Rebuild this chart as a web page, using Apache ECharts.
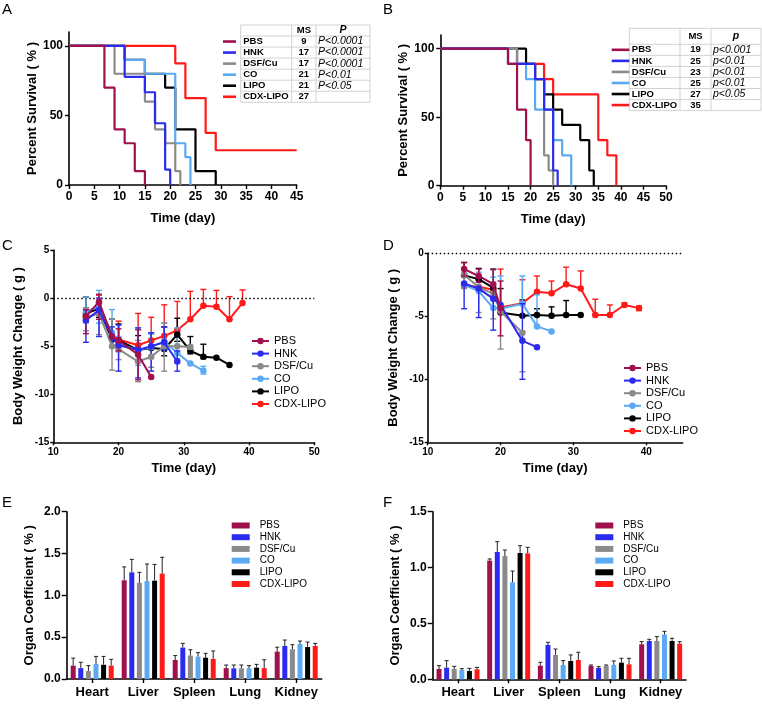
<!DOCTYPE html>
<html><head><meta charset="utf-8">
<script src="https://cdn.jsdelivr.net/npm/echarts@6/dist/echarts.min.js"></script>
<style>html,body{margin:0;padding:0;background:#fff}#c{width:762px;height:704px}</style>
</head><body><div id="c"></div>
<script>
// ---------- DATA ----------
const groups = ['PBS', 'HNK', 'DSF/Cu', 'CO', 'LIPO', 'CDX-LIPO'];

// Panel A survival: [day, percent]
const survA_PBS  = [[0,100],[7,70],[9,40],[11,30],[13,10],[15,0]];
const survA_HNK  = [[0,100],[11,77.8],[15,66.7],[17,44.4],[19,11.1],[20,0]];
const survA_DSF  = [[0,100],[9,80],[15,60],[17,40],[19,30],[21,10],[22,0]];
const survA_CO   = [[0,100],[11,90],[15,80],[21,30],[23,20],[24,0]];
const survA_LIPO = [[0,100],[11,90],[15,80],[19,70],[21,40],[25,10],[29,0]];
const survA_CDX  = [[0,100],[21,87.5],[23,62.5],[27,37.5],[29,25],[45,25]];
const msA = ['9','17','17','21','21','27'];
const pA  = ['P<0.0001','P<0.0001','P<0.0001','P<0.01','P<0.05',''];

// Panel B survival
const survB_PBS  = [[0,100],[15,88.9],[17,55.6],[19,33.3],[20,0]];
const survB_HNK  = [[0,100],[15,88.9],[21,77.8],[23,55.6],[25,11.1],[26,0]];
const survB_DSF  = [[0,100],[17,88.9],[21,77.8],[23,22.2],[24,11.1],[25,0]];
const survB_CO   = [[0,100],[17,88.9],[19,77.8],[21,55.6],[25,33.3],[27,22.2],[29,0]];
const survB_LIPO = [[0,100],[19,88.9],[21,77.8],[23,66.7],[25,55.6],[27,44.4],[31,33.3],[33,11.1],[34,0]];
const survB_CDX  = [[0,100],[17,88.9],[23,77.8],[25,66.7],[35,33.3],[37,22.2],[39,0]];
const msB = ['19','25','23','25','27','35'];
const pB  = ['p<0.001','p<0.01','p<0.01','p<0.01','p<0.05',''];

// Panel C body weight: [day, mean, lowerEnd, upperEnd]
const C_PBS  = [[15,-1.9,-3.7,-1.2],[17,-0.4,-2.2,0.4],[19,-4.0,null,null],[20,-4.4,-5.5,-3.2],[23,-5.9,-8.5,-3.3],[25,-8.2,null,null]];
const C_HNK  = [[15,-2.3,-4.6,-1.2],[17,-1.25,-4.0,0.0],[19,-4.0,-5.0,-3.0],[20,-4.9,-7.6,-2.8],[23,-5.4,-8.3,-3.1],[25,-5.0,-7.6,-3.6],[27,-4.6,-5.4,-3.0],[29,-6.6,-7.6,-5.5]];
const C_DSF  = [[15,-2.0,-3.4,-1.0],[17,-1.6,-3.8,-0.2],[19,-5.0,-7.5,-2.2],[20,-5.3,-6.4,-4.2],[23,-6.6,-8.7,-4.4],[25,-6.1,-7.2,-5.0],[27,-5.0,-7.6,-2.6],[29,-5.0,null,null],[31,-5.1,-5.3,-4.9]];
const C_CO   = [[15,-1.4,-2.6,0.1],[17,-0.9,-2.6,0.8],[19,-3.6,-5.0,-1.2],[20,-4.8,-5.6,-4.0],[23,-5.4,-7.0,-3.1],[25,-5.1,-6.3,-3.7],[27,-4.5,-5.5,-2.6],[29,-5.7,-6.3,-3.1],[31,-6.8,null,null],[33,-7.55,-7.9,-7.1]];
const C_LIPO = [[15,-1.6,-2.5,0.1],[17,-1.1,-2.0,-0.4],[19,-4.3,-5.0,-2.2],[20,-4.4,-5.0,-2.7],[23,-5.4,-6.5,-3.9],[25,-5.2,-6.0,-3.7],[27,-5.3,-6.0,-3.0],[29,-3.8,-4.5,-2.1],[31,-5.5,-5.8,-4.0],[33,-6.1,-6.3,-4.8],[35,-6.2,null,null],[37,-6.95,null,null]];
const C_CDX  = [[15,-1.9,null,-1.0],[17,-0.5,null,0.3],[19,-4.2,null,null],[20,-4.3,null,-2.4],[23,-4.9,null,-1.6],[25,-4.4,null,-2.0],[27,-3.95,null,-0.7],[29,-3.35,null,-0.35],[31,-2.2,null,0.7],[33,-0.8,null,0.9],[35,-0.9,null,0.8],[37,-2.2,null,0.15],[39,-0.5,null,0.85]];

// Panel D body weight
const D_PBS  = [[15,-1.25,-1.8,-0.75],[17,-1.8,-2.3,-1.25],[19,-2.45,-3.5,-1.3],[20,-4.35,-6.55,-2.2]];
const D_HNK  = [[15,-2.4,-4.4,null],[17,-2.8,-5.1,null],[19,-3.6,-6.1,null],[20,-4.1,null,null],[23,-6.95,-10.0,-4.0],[25,-7.45,null,null]];
const D_DSF  = [[15,-1.7,-2.8,null],[17,-2.7,-4.7,null],[19,-3.2,-5.2,null],[20,-4.6,-7.6,null],[23,-6.3,-9.4,null]];
const D_CO   = [[15,-2.5,null,-1.6],[17,-3.0,null,-1.5],[19,-4.35,null,-1.9],[20,-4.4,null,-1.8],[23,-4.0,null,-1.8],[25,-5.8,null,-3.3],[27,-6.2,null,null]];
const D_LIPO = [[15,-1.75,null,-0.72],[17,-2.05,null,-1.2],[19,-2.75,null,-1.25],[20,-4.7,null,-2.8],[23,-4.95,null,-3.7],[25,-4.9,null,-4.4],[27,-4.95,null,-4.25],[29,-4.9,null,-3.75],[31,-4.9,null,null]];
const D_CDX  = [[15,-2.6,null,null],[17,-2.65,null,null],[19,-2.9,null,null],[20,-4.3,null,-1.25],[23,-3.97,null,-2.1],[25,-3.05,null,-1.8],[27,-3.17,null,-2.2],[29,-2.46,null,-1.1],[31,-2.8,null,-1.4],[33,-4.9,null,-3.65],[35,-4.9,null,-4.1],[37,-4.1,null,-3.95],[39,-4.35,-4.55,-4.2]];

// Panels E/F organ coefficient
const organs = ['Heart', 'Liver', 'Spleen', 'Lung', 'Kidney'];
const E_PBS  = [0.16, 1.18, 0.227, 0.13, 0.327],  E_PBS_top  = [0.25, 1.34, 0.28, 0.167, 0.38];
const E_HNK  = [0.13, 1.275, 0.375, 0.127, 0.395], E_HNK_top = [0.20, 1.43, 0.426, 0.167, 0.466];
const E_DSF  = [0.095, 1.15, 0.28, 0.127, 0.355], E_DSF_top  = [0.16, 1.275, 0.35, 0.167, 0.41];
const E_CO   = [0.18, 1.17, 0.267, 0.127, 0.418], E_CO_top   = [0.27, 1.375, 0.315, 0.16, 0.454];
const E_LIPO = [0.17, 1.175, 0.255, 0.135, 0.382], E_LIPO_top = [0.27, 1.37, 0.307, 0.175, 0.442];
const E_CDX  = [0.16, 1.26, 0.24, 0.13, 0.395],   E_CDX_top  = [0.235, 1.455, 0.335, 0.23, 0.426];

const F_PBS  = [0.092, 1.062, 0.122, 0.119, 0.313], F_PBS_top  = [0.122, 1.077, 0.152, 0.128, 0.337];
const F_HNK  = [0.104, 1.14, 0.307, 0.101, 0.343],  F_HNK_top  = [0.167, 1.232, 0.331, 0.113, 0.358];
const F_DSF  = [0.092, 1.103, 0.218, 0.119, 0.343], F_DSF_top  = [0.116, 1.157, 0.271, 0.128, 0.382];
const F_CO   = [0.083, 0.868, 0.128, 0.128, 0.40],  F_CO_top   = [0.095, 0.969, 0.167, 0.164, 0.429];
const F_LIPO = [0.075, 1.13, 0.164, 0.149, 0.343],  F_LIPO_top = [0.098, 1.196, 0.218, 0.188, 0.367];
const F_CDX  = [0.089, 1.127, 0.173, 0.134, 0.319], F_CDX_top  = [0.107, 1.181, 0.242, 0.188, 0.337];

// ---------- STYLE ----------
const colors = ['#a0104f', '#2b2bef', '#8a8a8a', '#5aa9f2', '#000000', '#ff1a1a'];
const FONT = 'Liberation Sans, Arial, sans-serif';
const survA = [survA_PBS, survA_HNK, survA_DSF, survA_CO, survA_LIPO, survA_CDX];
const survB = [survB_PBS, survB_HNK, survB_DSF, survB_CO, survB_LIPO, survB_CDX];
const bwC = [C_PBS, C_HNK, C_DSF, C_CO, C_LIPO, C_CDX];
const bwD = [D_PBS, D_HNK, D_DSF, D_CO, D_LIPO, D_CDX];
const orgE = [[E_PBS,E_PBS_top],[E_HNK,E_HNK_top],[E_DSF,E_DSF_top],[E_CO,E_CO_top],[E_LIPO,E_LIPO_top],[E_CDX,E_CDX_top]];
const orgF = [[F_PBS,F_PBS_top],[F_HNK,F_HNK_top],[F_DSF,F_DSF_top],[F_CO,F_CO_top],[F_LIPO,F_LIPO_top],[F_CDX,F_CDX_top]];

const grids = [
  {left: 69,    top: 32,    width: 227.7, height: 153},
  {left: 440.3, top: 35,    width: 225.7, height: 150.7},
  {left: 53.3,  top: 250,   width: 261,   height: 192.3},
  {left: 427.7, top: 253.3, width: 255,   height: 189},
  {left: 66.7,  top: 511.7, width: 255,   height: 167.3},
  {left: 432.7, top: 511.7, width: 253.3, height: 167.6}
].map(g => Object.assign({containLabel: false, outerBoundsMode: 'none'}, g));

const axLine = {show: true, onZero: false, lineStyle: {color: '#000', width: 1.6}};
const axTick = (len) => ({show: true, inside: false, length: len, lineStyle: {color: '#000', width: 1.4}});
const lbl = (size, bold, margin) => ({color: '#000', fontSize: size, fontWeight: bold ? 'bold' : 'normal', fontFamily: FONT, margin: margin});
const nameStyle = {color: '#000', fontSize: 13, fontWeight: 'bold', fontFamily: FONT};

const xAxis = [
  {gridIndex: 0, type: 'value', min: 0, max: 45, interval: 5, axisLine: axLine, axisTick: axTick(4), splitLine: {show: false},
   axisLabel: lbl(12, true, 6), name: 'Time (day)', nameLocation: 'middle', nameGap: 27, nameTextStyle: nameStyle},
  {gridIndex: 1, type: 'value', min: 0, max: 50, interval: 5, axisLine: axLine, axisTick: axTick(4), splitLine: {show: false},
   axisLabel: lbl(12, true, 6), name: 'Time (day)', nameLocation: 'middle', nameGap: 27, nameTextStyle: nameStyle},
  {gridIndex: 2, type: 'value', min: 10, max: 50, interval: 10, axisLine: axLine, axisTick: axTick(3), splitLine: {show: false},
   axisLabel: lbl(10, true, 5), name: 'Time (day)', nameLocation: 'middle', nameGap: 20, nameTextStyle: nameStyle},
  {gridIndex: 3, type: 'value', min: 10, max: 45, interval: 10, axisLine: axLine,
   axisTick: Object.assign(axTick(3), {customValues: [10, 20, 30, 40]}), splitLine: {show: false},
   axisLabel: Object.assign(lbl(10, true, 5), {customValues: [10, 20, 30, 40]}),
   name: 'Time (day)', nameLocation: 'middle', nameGap: 20, nameTextStyle: nameStyle},
  {gridIndex: 4, type: 'category', data: organs, axisLine: axLine, axisTick: Object.assign(axTick(4), {alignWithLabel: true, interval: 0}),
   axisLabel: Object.assign(lbl(13, true, 7), {interval: 0})},
  {gridIndex: 5, type: 'category', data: organs, axisLine: axLine, axisTick: Object.assign(axTick(4), {alignWithLabel: true, interval: 0}),
   axisLabel: Object.assign(lbl(13, true, 7), {interval: 0})}
];
const yAxis = [
  {gridIndex: 0, type: 'value', min: 0, max: 110, axisLine: axLine,
   axisTick: Object.assign(axTick(4), {customValues: [0, 50, 100]}), splitLine: {show: false},
   axisLabel: Object.assign(lbl(12, true, 6), {customValues: [0, 50, 100]}),
   name: 'Percent Survival ( % )', nameLocation: 'middle', nameGap: 30, nameTextStyle: nameStyle},
  {gridIndex: 1, type: 'value', min: 0, max: 110, axisLine: axLine,
   axisTick: Object.assign(axTick(4), {customValues: [0, 50, 100]}), splitLine: {show: false},
   axisLabel: Object.assign(lbl(12, true, 6), {customValues: [0, 50, 100]}),
   name: 'Percent Survival ( % )', nameLocation: 'middle', nameGap: 27, nameTextStyle: nameStyle},
  {gridIndex: 2, type: 'value', min: -15, max: 5, interval: 5, axisLine: axLine, axisTick: axTick(3), splitLine: {show: false},
   axisLabel: lbl(10, true, 4), name: 'Body Weight Change ( g )', nameLocation: 'middle', nameGap: 28, nameTextStyle: nameStyle},
  {gridIndex: 3, type: 'value', min: -15, max: 0, interval: 5, axisLine: axLine, axisTick: axTick(3), splitLine: {show: false},
   axisLabel: lbl(10, true, 4), name: 'Body Weight Change ( g )', nameLocation: 'middle', nameGap: 28, nameTextStyle: nameStyle},
  {gridIndex: 4, type: 'value', min: 0, max: 2, interval: 0.5, axisLine: axLine, axisTick: axTick(5), splitLine: {show: false},
   axisLabel: Object.assign(lbl(12, true, 6), {formatter: v => v.toFixed(1)}),
   name: 'Organ Coefficient ( % )', nameLocation: 'middle', nameGap: 31, nameTextStyle: nameStyle},
  {gridIndex: 5, type: 'value', min: 0, max: 1.5, interval: 0.5, axisLine: axLine, axisTick: axTick(5), splitLine: {show: false},
   axisLabel: Object.assign(lbl(12, true, 6), {formatter: v => v.toFixed(1)}),
   name: 'Organ Coefficient ( % )', nameLocation: 'middle', nameGap: 31, nameTextStyle: nameStyle}
];

const series = [];
// survival curves
[survA, survB].forEach((set, p) => {
  set.forEach((d, i) => {
    series.push({type: 'line', name: groups[i] + '#' + p, xAxisIndex: p, yAxisIndex: p, data: d, step: 'end',
      symbol: 'none', lineStyle: {color: colors[i], width: 2.2}, itemStyle: {color: colors[i]}, z: 10 - i, silent: true});
  });
});

// error bar renderer for lines
function lineErr(color) {
  return function (params, api) {
    const x = api.value(0), m = api.value(1), lo = api.value(2), hi = api.value(3);
    const pm = api.coord([x, m]);
    const ch = [];
    const cap = 3;
    [lo, hi].forEach(v => {
      if (v === null || v === undefined || isNaN(v) || v === '-') return;
      const pe = api.coord([x, v]);
      ch.push({type: 'line', shape: {x1: pm[0], y1: pm[1], x2: pe[0], y2: pe[1]}, style: {stroke: color, lineWidth: 1.4}});
      ch.push({type: 'line', shape: {x1: pe[0] - cap, y1: pe[1], x2: pe[0] + cap, y2: pe[1]}, style: {stroke: color, lineWidth: 1.4}});
    });
    return {type: 'group', children: ch};
  };
}

[[bwC, 2, 'C'], [bwD, 3, 'D']].forEach(([set, ax, tag]) => {
  set.forEach((d, i) => {
    series.push({type: 'custom', xAxisIndex: ax, yAxisIndex: ax, renderItem: lineErr(colors[i]),
      data: d.map(r => [r[0], r[1], r[2] === null ? '-' : r[2], r[3] === null ? '-' : r[3]]),
      encode: {x: 0, y: 1}, z: 3 + (5 - i), silent: true});
    const s = {type: 'line', name: groups[i] + '#' + tag, xAxisIndex: ax, yAxisIndex: ax,
      data: d.map(r => [r[0], r[1]]), symbol: 'circle', symbolSize: 6.5,
      lineStyle: {color: colors[i], width: 2}, itemStyle: {color: colors[i]}, z: 4 + (5 - i), silent: true};
    if (i === 0) {
      s.markLine = {silent: true, symbol: 'none', label: {show: false},
        lineStyle: {color: '#000', type: [1.5, 2.5], width: 1.3}, data: [{yAxis: 0}]};
    }
    series.push(s);
  });
});

// bars
const barW = 5, barGapRatio = 0.52;
[[orgE, 4, 'E'], [orgF, 5, 'F']].forEach(([set, ax, tag]) => {
  set.forEach((pair, i) => {
    series.push({type: 'bar', name: groups[i] + '#' + tag, xAxisIndex: ax, yAxisIndex: ax, data: pair[0],
      barWidth: barW, barGap: (barGapRatio * 100) + '%', itemStyle: {color: colors[i]}, silent: true});
  });
  series.push({type: 'custom', xAxisIndex: ax, yAxisIndex: ax, silent: true, z: 5,
    data: set.flatMap((pair, i) => pair[0].map((v, c) => [c, v, pair[1][c], i])),
    encode: {x: 0, y: 2},
    renderItem: function (params, api) {
      const c = api.value(0), v = api.value(1), t = api.value(2), i = api.value(3);
      const step = barW * (1 + barGapRatio);
      const off = (i - 2.5) * step;
      const p0 = api.coord([c, v]), p1 = api.coord([c, t]);
      const x = p0[0] + off;
      return {type: 'group', children: [
        {type: 'line', shape: {x1: x, y1: p0[1], x2: x, y2: p1[1]}, style: {stroke: '#222', lineWidth: 1}},
        {type: 'line', shape: {x1: x - 2, y1: p1[1], x2: x + 2, y2: p1[1]}, style: {stroke: '#222', lineWidth: 1}}
      ]};
    }});
});

// legends
const legendFmt = n => n.split('#')[0];
const legend = [
  {left: 246, top: 330.5, orient: 'vertical', itemWidth: 17, itemHeight: 8, itemGap: 1.6, data: groups.map(g => g + '#C'),
   formatter: legendFmt, textStyle: {fontSize: 11, fontFamily: FONT, color: '#000', lineHeight: 11}, selectedMode: false},
  {left: 618, top: 357.5, orient: 'vertical', itemWidth: 17, itemHeight: 8, itemGap: 1.6, data: groups.map(g => g + '#D'),
   formatter: legendFmt, textStyle: {fontSize: 11, fontFamily: FONT, color: '#000', lineHeight: 11}, selectedMode: false},
  {left: 226.7, top: 515.5, orient: 'vertical', icon: 'rect', itemWidth: 18, itemHeight: 6, itemGap: 1.7, data: groups.map(g => g + '#E'),
   formatter: legendFmt, textStyle: {fontSize: 10, fontFamily: FONT, color: '#000', lineHeight: 10, padding: [0, 0, 0, 5]}, selectedMode: false},
  {left: 590.3, top: 515.5, orient: 'vertical', icon: 'rect', itemWidth: 18, itemHeight: 6, itemGap: 1.7, data: groups.map(g => g + '#F'),
   formatter: legendFmt, textStyle: {fontSize: 10, fontFamily: FONT, color: '#000', lineHeight: 10, padding: [0, 0, 0, 5]}, selectedMode: false}
];

// survival tables
function textEl(x, y, text, opts) {
  return {type: 'text', x: x, y: y, silent: true, style: Object.assign({text: text, fill: '#000', fontFamily: FONT,
    fontSize: 9.5, fontWeight: 'bold', align: 'left', verticalAlign: 'middle', textAlign: 'left', textVerticalAlign: 'middle'}, opts || {})};
}
function buildTable(t, ms, pv, pHead) {
  const els = [];
  const bounds = [t.top, t.top + t.headH];
  for (let i = 0; i < groups.length; i++) bounds.push(bounds[bounds.length - 1] + t.rowH);
  const bottom = bounds[bounds.length - 1];
  const gl = {stroke: '#d2d2d2', lineWidth: 1};
  bounds.forEach(by => els.push({type: 'line', silent: true, shape: {x1: t.cols[0], y1: by, x2: t.cols[3], y2: by}, style: gl}));
  t.cols.forEach(cx => els.push({type: 'line', silent: true, shape: {x1: cx, y1: t.top, x2: cx, y2: bottom}, style: gl}));
  const hy = t.top + t.headH / 2;
  const msX = (t.cols[1] + t.cols[2]) / 2, pX = (t.cols[2] + t.cols[3]) / 2;
  els.push(textEl(msX, hy, 'MS', {align: 'center', textAlign: 'center'}));
  els.push(textEl(pX, hy, pHead, {align: 'center', textAlign: 'center', fontStyle: 'italic', fontSize: 10.5}));
  groups.forEach((g, i) => {
    const cy = (bounds[i + 1] + bounds[i + 2]) / 2;
    els.push({type: 'line', silent: true, shape: {x1: t.sw[0], y1: cy, x2: t.sw[1], y2: cy}, style: {stroke: colors[i], lineWidth: 2.6}});
    els.push(textEl(t.cols[0] + 2.5, cy, g));
    els.push(textEl(msX, cy, ms[i], {align: 'center', textAlign: 'center'}));
    if (pv[i]) els.push(textEl(t.cols[2] + 2, cy, pv[i], {fontWeight: 'normal', fontStyle: 'italic', fontSize: 10.5}));
  });
  return els;
}
const tableA = buildTable({top: 25, headH: 11, rowH: 11.05, cols: [240.7, 291.7, 316, 370], sw: [223, 236]}, msA, pA, 'P');
const tableB = buildTable({top: 28.3, headH: 16, rowH: 11.05, cols: [629.3, 680, 711, 761], sw: [611.7, 629.3]}, msB, pB, 'p');

const letters = [['A', 2, 2], ['B', 383, 2], ['C', 2, 238], ['D', 383, 238], ['E', 2, 495], ['F', 383, 495]];
const title = letters.map(l => ({text: l[0], left: l[1], top: l[2], padding: 0,
  textStyle: {fontSize: 15, fontWeight: 'normal', fontFamily: FONT, color: '#000'}}));

const chart = echarts.init(document.getElementById('c'), null, {renderer: 'canvas'});
chart.setOption({
  animation: false,
  backgroundColor: '#fff',
  textStyle: {fontFamily: FONT},
  title: title,
  grid: grids,
  xAxis: xAxis,
  yAxis: yAxis,
  legend: legend,
  series: series,
  graphic: {elements: tableA.concat(tableB)}
});
</script></body></html>
